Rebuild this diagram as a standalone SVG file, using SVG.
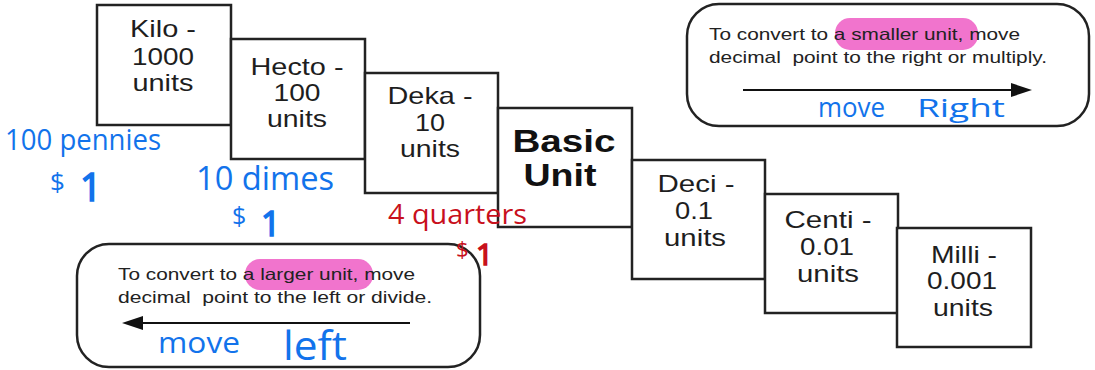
<svg xmlns="http://www.w3.org/2000/svg" width="1095" height="370" viewBox="0 0 1095 370">
<defs>
<style>
.box{fill:#fff;stroke:#222;stroke-width:2.5}
.bt{font-family:"Liberation Sans",Arial,sans-serif;font-size:24px;fill:#1e1e1e;text-anchor:middle}
.bb{font-family:"Liberation Sans",Arial,sans-serif;font-size:31px;font-weight:bold;fill:#111;text-anchor:middle}
.call{fill:#fff;stroke:#222;stroke-width:2.5}
.ct{font-family:"Liberation Sans",Arial,sans-serif;font-size:16.5px;fill:#222;white-space:pre}
.hl{fill:#ee5cc4;opacity:0.85}
.arr{stroke:#111;stroke-width:2.2;fill:none}
.head{fill:#111}
.hw{font-family:"Open Sans","DejaVu Sans",sans-serif;font-weight:400;fill:#1273eb}
.hr{font-family:"Open Sans","DejaVu Sans",sans-serif;font-weight:400;fill:#c8101c}
.one{stroke-width:1.6}
</style>
</defs>
<rect width="1095" height="370" fill="#fff"/>

<g id="node-kilo">
<rect class="box" x="97" y="5" width="134" height="120"/>
<text class="bt" x="163" y="37" textLength="66" lengthAdjust="spacingAndGlyphs">Kilo -</text>
<text class="bt" x="163" y="65" textLength="62" lengthAdjust="spacingAndGlyphs">1000</text>
<text class="bt" x="163" y="91" textLength="61" lengthAdjust="spacingAndGlyphs">units</text>
</g>
<g id="node-hecto">
<rect class="box" x="231" y="39" width="134" height="120"/>
<text class="bt" x="297" y="75" textLength="93" lengthAdjust="spacingAndGlyphs">Hecto -</text>
<text class="bt" x="297" y="101" textLength="47" lengthAdjust="spacingAndGlyphs">100</text>
<text class="bt" x="297" y="127" textLength="60" lengthAdjust="spacingAndGlyphs">units</text>
</g>
<g id="node-deka">
<rect class="box" x="365" y="73" width="133" height="120"/>
<text class="bt" x="430" y="104" textLength="85" lengthAdjust="spacingAndGlyphs">Deka -</text>
<text class="bt" x="430" y="131" textLength="30" lengthAdjust="spacingAndGlyphs">10</text>
<text class="bt" x="430" y="157" textLength="60" lengthAdjust="spacingAndGlyphs">units</text>
</g>
<g id="node-basic">
<rect class="box" x="498" y="108" width="134" height="119"/>
<text class="bb" x="564" y="152" textLength="103" lengthAdjust="spacingAndGlyphs">Basic</text>
<text class="bb" x="560" y="186" textLength="73" lengthAdjust="spacingAndGlyphs">Unit</text>
</g>
<g id="node-deci">
<rect class="box" x="632" y="160" width="133" height="119"/>
<text class="bt" x="696" y="192" textLength="77" lengthAdjust="spacingAndGlyphs">Deci -</text>
<text class="bt" x="694" y="219" textLength="38" lengthAdjust="spacingAndGlyphs">0.1</text>
<text class="bt" x="695" y="246" textLength="62" lengthAdjust="spacingAndGlyphs">units</text>
</g>
<g id="node-centi">
<rect class="box" x="765" y="194" width="133" height="119"/>
<text class="bt" x="828" y="228" textLength="87" lengthAdjust="spacingAndGlyphs">Centi -</text>
<text class="bt" x="827" y="255" textLength="54" lengthAdjust="spacingAndGlyphs">0.01</text>
<text class="bt" x="828" y="282" textLength="62" lengthAdjust="spacingAndGlyphs">units</text>
</g>
<g id="node-milli">
<rect class="box" x="897" y="228" width="134" height="119"/>
<text class="bt" x="964" y="263" textLength="66" lengthAdjust="spacingAndGlyphs">Milli -</text>
<text class="bt" x="962" y="289" textLength="70" lengthAdjust="spacingAndGlyphs">0.001</text>
<text class="bt" x="963" y="316" textLength="60" lengthAdjust="spacingAndGlyphs">units</text>
</g>

<g id="note-smaller">
<rect class="call" x="687" y="4" width="402" height="122" rx="32" ry="32"/>
<rect class="hl" x="835" y="18" width="143" height="32" rx="15" ry="15"/>
<text class="ct" x="709" y="40" textLength="311" lengthAdjust="spacingAndGlyphs">To convert to a smaller unit, move</text>
<text class="ct" x="709" y="63" textLength="338" lengthAdjust="spacingAndGlyphs">decimal  point to the right or multiply.</text>
</g>
<g id="note-larger">
<rect class="call" x="77" y="244" width="403" height="123" rx="32" ry="32"/>
<rect class="hl" x="245" y="259" width="128" height="31" rx="15" ry="15"/>
<text class="ct" x="118" y="280" textLength="297" lengthAdjust="spacingAndGlyphs">To convert to a larger unit, move</text>
<text class="ct" x="118" y="303" textLength="314" lengthAdjust="spacingAndGlyphs">decimal  point to the left or divide.</text>
</g>

<g id="connectors">
<line class="arr" x1="743" y1="90" x2="1014" y2="90"/>
<polygon class="head" points="1032,90 1011,83 1011,97"/>
<line class="arr" x1="410" y1="323" x2="140" y2="323"/>
<polygon class="head" points="122,323 143,316 143,330"/>
</g>

<g id="handwriting">
<text class="hw" x="5" y="150" font-size="30" textLength="156" lengthAdjust="spacingAndGlyphs">100 pennies</text>
<text class="hw" x="50" y="191" font-size="26">$</text>
<text class="hw one" x="80" y="201" font-size="38" stroke="#1273eb">1</text>
<text class="hw" x="196" y="190" font-size="32" textLength="138" lengthAdjust="spacingAndGlyphs">10 dimes</text>
<text class="hw" x="232" y="225" font-size="25">$</text>
<text class="hw one" x="261" y="236" font-size="34" stroke="#1273eb">1</text>
<text class="hr" x="388" y="224" font-size="27" textLength="139" lengthAdjust="spacingAndGlyphs">4 quarters</text>
<text class="hr" x="456" y="257" font-size="22">$</text>
<text class="hr one" x="476" y="265" font-size="30" stroke="#c8101c">1</text>
<text class="hw" x="818" y="117" font-size="27" textLength="67" lengthAdjust="spacingAndGlyphs">move</text>
<text class="hw" x="917" y="117" font-size="25" textLength="88" lengthAdjust="spacingAndGlyphs">Right</text>
<text class="hw" x="158" y="353" font-size="29" textLength="82" lengthAdjust="spacingAndGlyphs">move</text>
<text class="hw" x="283" y="360" font-size="40" textLength="64" lengthAdjust="spacingAndGlyphs">left</text>
</g>
</svg>
